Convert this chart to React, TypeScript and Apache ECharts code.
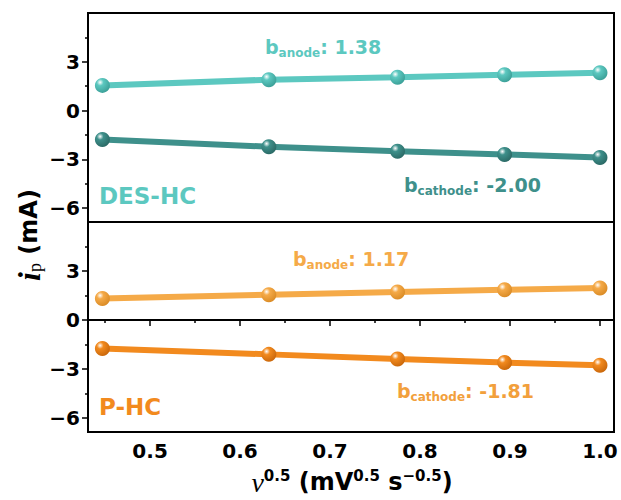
import { useEffect, useRef } from 'react';
import * as echarts from 'echarts';

// x: square root of scan rate (mV^0.5 s^-0.5)
const xValues = [0.447, 0.632, 0.775, 0.894, 1.0];
// DES-HC peak currents (mA)
const desAnode = [1.55, 1.9, 2.05, 2.2, 2.32];
const desCathode = [-1.78, -2.22, -2.5, -2.7, -2.88];
// P-HC peak currents (mA)
const phcAnode = [1.32, 1.55, 1.72, 1.85, 1.96];
const phcCathode = [-1.74, -2.1, -2.38, -2.6, -2.76];

const xTicks = [0.5, 0.6, 0.7, 0.8, 0.9, 1.0];
const xMinorTicks = [0.45, 0.55, 0.65, 0.75, 0.85, 0.95];
const yTicks = [-6, -3, 0, 3];
const yMinorTicks = [-4.5, -1.5, 1.5, 4.5];

const X_MIN = 0.431;
const X_MAX = 1.0156;
const Y_MIN = -6.85;
const Y_MAX = 6.0;

const SANS = '"DejaVu Sans", "Liberation Sans", Arial, sans-serif';
const SERIF = '"Liberation Serif", "DejaVu Serif", serif';

const C_DES_A = '#5CC8C0';
const C_DES_C = '#3E908B';
const C_PHC_A = '#F5AA48';
const C_PHC_C = '#F28A1E';

function ball(base: string, dark: string) {
  return new echarts.graphic.RadialGradient(0.35, 0.3, 0.75, [
    { offset: 0, color: '#ffffff' },
    { offset: 0.3, color: base },
    { offset: 1, color: dark },
  ]);
}

function fmtY(v: number) {
  return v < 0 ? '\u2212' + Math.abs(v) : String(v);
}

function App() {
  const ref = useRef<HTMLDivElement>(null);
  useEffect(() => {
    if (!ref.current) return;
    document.body.style.margin = '0';
    const chart = echarts.init(ref.current, undefined, { renderer: 'svg' });

    const grids = [
      { left: 88, top: 13, width: 526, height: 209 },
      { left: 88, top: 222, width: 526, height: 210 },
    ].map((g) => ({ ...g, show: true, borderColor: '#000', borderWidth: 2, backgroundColor: 'transparent' }));

    const yMain = (gi: number) => ({
      type: 'value',
      gridIndex: gi,
      min: Y_MIN,
      max: Y_MAX,
      position: 'left',
      splitLine: { show: false },
      axisLine: { show: true, lineStyle: { color: '#000', width: 2 } },
      axisTick: { show: true, inside: false, length: 6, customValues: yTicks, lineStyle: { color: '#000', width: 1.5 } },
      axisLabel: {
        customValues: yTicks,
        formatter: fmtY,
        margin: 8,
        color: '#000',
        fontSize: 20,
        fontWeight: 'bold',
        fontFamily: SANS,
      },
    });
    const yMinor = (gi: number) => ({
      type: 'value',
      gridIndex: gi,
      min: Y_MIN,
      max: Y_MAX,
      position: 'left',
      splitLine: { show: false },
      axisLine: { show: false },
      axisTick: { show: true, inside: false, length: 3, customValues: yMinorTicks, lineStyle: { color: '#000', width: 1.5 } },
      axisLabel: { show: false },
    });

    const series = [
      { data: desAnode, color: C_DES_A, dark: '#3A9E96', g: 0 },
      { data: desCathode, color: C_DES_C, dark: '#2A6864', g: 0 },
      { data: phcAnode, color: C_PHC_A, dark: '#D98A24', g: 1 },
      { data: phcCathode, color: C_PHC_C, dark: '#C8660A', g: 1 },
    ].map((s) => ({
      type: 'line',
      xAxisIndex: s.g === 0 ? 0 : 1,
      yAxisIndex: s.g === 0 ? 0 : 2,
      data: xValues.map((x, i) => [x, s.data[i]]),
      symbol: 'circle',
      symbolSize: 15,
      showSymbol: true,
      lineStyle: { color: s.color, width: 6 },
      itemStyle: { color: ball(s.color, s.dark) },
      z: 3,
    }));

    const ann = (x: number, y: number, color: string, sub: string, value: string) => ({
      type: 'text',
      x,
      y,
      z: 10,
      style: {
        text: `{b|b}{s|${sub}}{b|: ${value}}`,
        align: 'left',
        verticalAlign: 'middle',
        fill: color,
        rich: {
          b: { fill: color, fontSize: 19, fontWeight: 'bold', fontFamily: SANS, lineHeight: 24 },
          s: { fill: color, fontSize: 12, fontWeight: 'bold', fontFamily: SANS, lineHeight: 8, verticalAlign: 'bottom' },
        },
      },
    });

    const label = (x: number, y: number, color: string, text: string) => ({
      type: 'text',
      x,
      y,
      z: 10,
      style: {
        text,
        align: 'left',
        verticalAlign: 'middle',
        fill: color,
        fontSize: 23,
        fontWeight: 'bold',
        fontFamily: SANS,
      },
    });

    const option: any = {
      animation: false,
      backgroundColor: '#fff',
      grid: grids,
      xAxis: [
        { type: 'value', gridIndex: 0, min: X_MIN, max: X_MAX, show: false },
        {
          type: 'value',
          gridIndex: 1,
          min: X_MIN,
          max: X_MAX,
          position: 'bottom',
          splitLine: { show: false },
          axisLine: { show: true, lineStyle: { color: '#000', width: 2 } },
          axisTick: { show: true, inside: false, length: 6, customValues: xTicks, lineStyle: { color: '#000', width: 1.5 } },
          axisLabel: {
            customValues: xTicks,
            formatter: (v: number) => v.toFixed(1),
            margin: 9,
            color: '#000',
            fontSize: 20,
            fontWeight: 'bold',
            fontFamily: SANS,
          },
        },
        {
          type: 'value',
          gridIndex: 1,
          min: X_MIN,
          max: X_MAX,
          position: 'bottom',
          splitLine: { show: false },
          axisLine: { show: false },
          axisTick: { show: true, inside: false, length: 3, customValues: xMinorTicks, lineStyle: { color: '#000', width: 1.5 } },
          axisLabel: { show: false },
        },
      ],
      yAxis: [yMain(0), yMinor(0), yMain(1), yMinor(1)],
      series,
      graphic: [
        ann(265, 47, C_DES_A, 'anode', '1.38'),
        ann(404, 185, C_DES_C, 'cathode', '-2.00'),
        label(99, 196, C_DES_A, 'DES-HC'),
        ann(293, 259, C_PHC_A, 'anode', '1.17'),
        ann(397, 391, '#F2A03C', 'cathode', '-1.81'),
        label(99, 407, C_PHC_C, 'P-HC'),
        {
          type: 'text',
          x: 29,
          y: 235,
          rotation: Math.PI / 2,
          z: 10,
          style: {
            text: '{i|i}{p|p}{n| (mA)}',
            align: 'center',
            verticalAlign: 'middle',
            fill: '#000',
            rich: {
              i: { fill: '#000', fontSize: 32, fontStyle: 'italic', fontWeight: 'bold', fontFamily: SERIF, lineHeight: 30 },
              p: { fill: '#000', fontSize: 18, fontFamily: SERIF, lineHeight: 12, verticalAlign: 'bottom' },
              n: { fill: '#000', fontSize: 24, fontWeight: 'bold', fontFamily: SANS, lineHeight: 30 },
            },
          },
        },
        {
          type: 'text',
          x: 352,
          y: 482,
          z: 10,
          style: {
            text: '{v|\u03bd}{sp|0.5}{m| (mV}{sp|0.5}{m| s}{sp|\u22120.5}{m|)}',
            align: 'center',
            verticalAlign: 'middle',
            fill: '#000',
            rich: {
              v: { fill: '#000', fontSize: 28, fontStyle: 'italic', fontFamily: SERIF, lineHeight: 28 },
              m: { fill: '#000', fontSize: 24, fontWeight: 'bold', fontFamily: SANS, lineHeight: 28 },
              sp: { fill: '#000', fontSize: 15, fontWeight: 'bold', fontFamily: SANS, lineHeight: 14, verticalAlign: 'top' },
            },
          },
        },
      ],
    };

    chart.setOption(option);
    return () => chart.dispose();
  }, []);
  return <div ref={ref} style={{ width: 621, height: 500 }} />;
}

export default App;
